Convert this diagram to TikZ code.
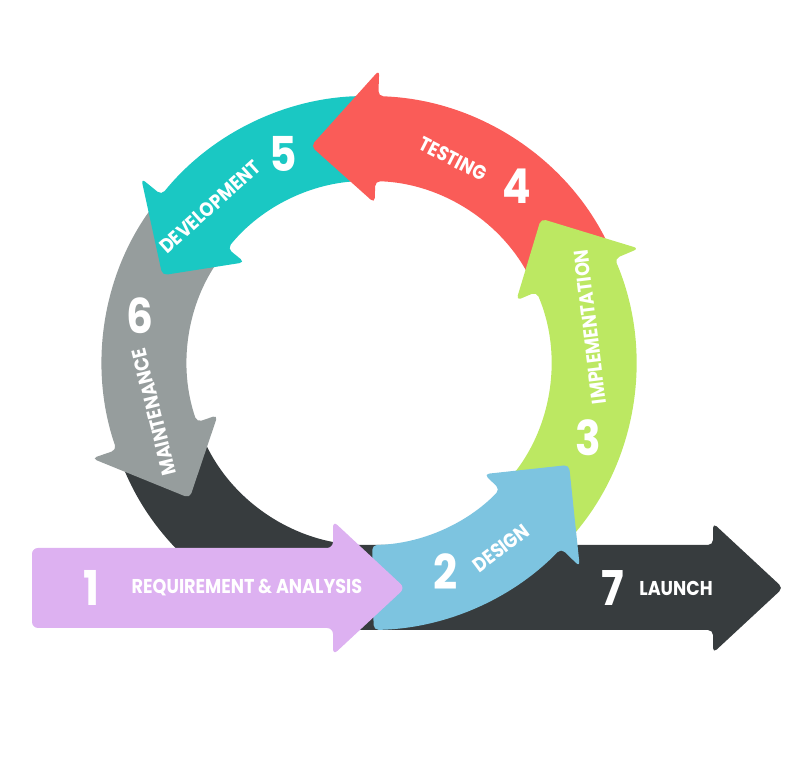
\documentclass[tikz,border=0pt]{standalone}
\usepackage{fontspec}
\setmainfont{Poppins}[FakeStretch=0.88]
\usepackage{tikz}
\usetikzlibrary{calc}

\definecolor{launchgray}{HTML}{373C3E}
\definecolor{maintgray}{HTML}{969D9D}
\definecolor{devteal}{HTML}{1AC8C3}
\definecolor{testred}{HTML}{FA5C58}
\definecolor{implgreen}{HTML}{BCE862}
\definecolor{designblue}{HTML}{7DC4E0}
\definecolor{reqlilac}{HTML}{DDB1F1}

% ring radii (picture units = half points)
\newcommand{\ringin}{182}
\newcommand{\ringout}{267}
\newcommand{\ringmid}{224.5}
\newcommand{\barbin}{160}
\newcommand{\barbout}{293}

% curved arrow on the ring: colour, start angle, head base, head tip
\newcommand{\ringarrow}[4]{%
  \fill[#1, rounded corners=2.5pt]
    (#2:\ringout) arc[start angle=#2, end angle=#3, radius=\ringout]
    -- (#3:\barbout) -- (#4:\ringmid) -- (#3:\barbin) -- (#3:\ringin)
    arc[start angle=#3, end angle=#2, radius=\ringin] -- cycle;}

\begin{document}
\begin{tikzpicture}[x=0.5pt, y=0.5pt,
    lbl/.style={text=white, font=\bfseries\fontsize{10}{11}\selectfont, inner sep=0},
    num/.style={text=white, font=\bfseries\fontsize{24}{26}\selectfont, inner sep=0}]
  \useasboundingbox (0,0) rectangle (805,764);

  \begin{scope}[shift={(369,401)}]
    % 7: launch, ring part then straight bar
    \fill[launchgray, rounded corners=2.5pt]
      (202:\ringout) arc[start angle=202, end angle=270, radius=\ringout]
      -- (344,-267) -- (344,-290) -- (414,-225) -- (344,-160) -- (344,-182)
      -- (0,-182) arc[start angle=270, end angle=202, radius=\ringin] -- cycle;
    \ringarrow{maintgray}{144}{199}{217}
    \ringarrow{devteal}{91}{141}{157}
    \ringarrow{testred}{26}{88}{105}
    \ringarrow{implgreen}{-41}{23}{40}
    \ringarrow{designblue}{-89}{-44}{-27}
  \end{scope}

  % 1: requirement bar
  \fill[reqlilac, rounded corners=3pt]
    (333,136) -- (32,136) -- (32,216) -- (333,216) -- (333,243)
    -- (405,176) -- (333,109) -- cycle;

  \node[num] (n1) at (91,176) {1};
  \node[lbl] (req) at (247,176) {REQUIREMENT \& ANALYSIS};
  \node[num] (n2) at (446,192) {2};
  \node[lbl, rotate=37] (design) at (501,216) {DESIGN};
  \node[num] (n3) at (588,326) {3};
  \node[lbl, rotate=97] (impl) at (590,437) {IMPLEMENTATION};
  \node[num] (n4) at (517,578) {4};
  \node[lbl, rotate=-27] (test) at (453,605) {TESTING};
  \node[num] (n5) at (283,610) {5};
  \node[lbl, rotate=42] (dev) at (210,557) {DEVELOPMENT};
  \node[num] (n6) at (140,448) {6};
  \node[lbl, rotate=104] (maint) at (154,352) {MAINTENANCE};
  \node[num] (n7) at (613,176) {7};
  \node[lbl] (launch) at (676,176) {LAUNCH};
\end{tikzpicture}
\end{document}
